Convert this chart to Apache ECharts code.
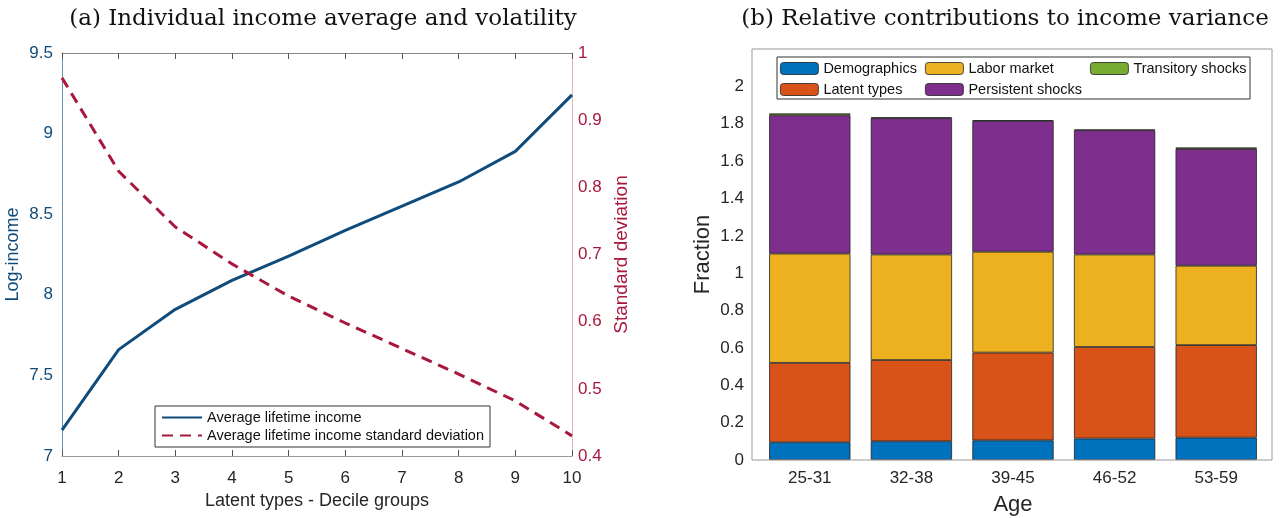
<!DOCTYPE html>
<html><head><meta charset="utf-8">
<script src="https://cdn.jsdelivr.net/npm/echarts@6/dist/echarts.min.js"></script>
<style>html,body{margin:0;padding:0;background:#fff}#c{width:1280px;height:518px}</style>
</head><body><div id="c"></div>
<script>
// ---- Data ----
const deciles = [1,2,3,4,5,6,7,8,9,10];
const avgIncome = [7.16,7.66,7.91,8.09,8.24,8.40,8.55,8.70,8.89,9.24];
const avgIncomeSD = [0.963,0.824,0.741,0.686,0.638,0.598,0.560,0.522,0.482,0.430];
const ageGroups = ['25-31','32-38','39-45','46-52','53-59'];
const demographics = [0.095,0.100,0.105,0.115,0.120];
const latentTypes = [0.425,0.435,0.470,0.490,0.495];
const laborMarket = [0.585,0.565,0.540,0.495,0.425];
const persistentShocks = [0.740,0.730,0.700,0.665,0.625];
const transitoryShocks = [0.010,0.004,0.004,0.004,0.008];
const leftTicks = [7,7.5,8,8.5,9,9.5];
const rightTicks = [0.4,0.5,0.6,0.7,0.8,0.9,1];

const BLUE='#0f4c7c', RED='#a8173c';
const SANS='"Liberation Sans", Arial, sans-serif';
const SERIF='"DejaVu Serif", "Liberation Serif", serif';
const chart = echarts.init(document.getElementById('c'));
const xy = (a,b)=>a.map((v,i)=>[b[i],v]);
const barSeries = (name,data,color)=>({name,type:'bar',stack:'t',xAxisIndex:2,yAxisIndex:2,data,barWidth:'80%',
  itemStyle:{color,borderColor:'#222',borderWidth:0.8}});
const barLegend = (data,left)=>({data,orient:'vertical',left,top:61,itemWidth:38,itemHeight:12,itemGap:6,padding:0,
  itemStyle:{borderColor:'#222',borderWidth:0.8},textStyle:{fontFamily:SANS,fontSize:14.5,color:'#111'}});
chart.setOption({
  animation:false,
  title:[
    {text:'(a) Individual income average and volatility',left:318,top:3,textAlign:'center',textStyle:{fontFamily:SERIF,fontWeight:'normal',fontSize:23,color:'#111'}},
    {text:'(b) Relative contributions to income variance',left:1000,top:3,textAlign:'center',textStyle:{fontFamily:SERIF,fontWeight:'normal',fontSize:23,color:'#111'}}
  ],
  grid:[
    {left:62,right:708,top:53,bottom:62,containLabel:false,outerBoundsMode:'none'},
    {left:759,right:13,top:49,bottom:58,containLabel:false,outerBoundsMode:'none'}
  ],
  xAxis:[
    {type:'value',gridIndex:0,min:1,max:10,interval:1,
     name:'Latent types - Decile groups',nameLocation:'middle',nameGap:32,nameTextStyle:{fontFamily:SANS,fontSize:18,color:'#262626'},
     axisLine:{lineStyle:{color:'#999'}},axisTick:{inside:true,length:6,lineStyle:{color:'#555'}},
     axisLabel:{fontFamily:SANS,fontSize:17,color:'#262626',margin:14},splitLine:{show:false}},
    {type:'value',gridIndex:0,min:1,max:10,interval:1,position:'top',
     axisLine:{lineStyle:{color:'#888'}},axisTick:{inside:true,length:6,lineStyle:{color:'#555'}},axisLabel:{show:false},splitLine:{show:false}},
    {type:'category',gridIndex:1,data:ageGroups,
     name:'Age',nameLocation:'middle',nameGap:34,nameTextStyle:{fontFamily:SANS,fontSize:22,color:'#262626'},
     axisLine:{show:false},axisTick:{inside:true,alignWithLabel:true,length:6,lineStyle:{color:'#555'}},
     axisLabel:{fontFamily:SANS,fontSize:17,color:'#262626',margin:10}},
    {type:'category',gridIndex:1,data:ageGroups,position:'top',
     axisLine:{show:false},axisTick:{inside:true,alignWithLabel:true,length:6,lineStyle:{color:'#555'}},axisLabel:{show:false}}
  ],
  yAxis:[
    {type:'value',gridIndex:0,min:7,max:9.5,interval:0.5,
     name:'Log-income',nameLocation:'middle',nameGap:40,nameTextStyle:{fontFamily:SANS,fontSize:18,color:BLUE},
     axisLine:{show:true,lineStyle:{color:'#6d93b3'}},axisTick:{show:false},
     axisLabel:{fontFamily:SANS,fontSize:17,color:BLUE,margin:9,formatter:v=>leftTicks.includes(v)?String(v):''},splitLine:{show:false}},
    {type:'value',gridIndex:0,min:0.4,max:1,interval:0.1,position:'right',
     name:'Standard deviation',nameLocation:'middle',nameGap:40,nameRotate:90,nameTextStyle:{fontFamily:SANS,fontSize:19,color:RED},
     axisLine:{show:true,lineStyle:{color:'#eab2bf'}},axisTick:{show:false},
     axisLabel:{fontFamily:SANS,fontSize:17,color:RED,margin:6,formatter:v=>{const r=Math.round(v*10)/10;return rightTicks.includes(r)?String(r):'';}},splitLine:{show:false}},
    {type:'value',gridIndex:1,min:0,max:2.2,interval:0.2,offset:7,
     name:'Fraction',nameLocation:'middle',nameGap:38,nameTextStyle:{fontFamily:SANS,fontSize:22,color:'#262626'},
     axisLine:{show:false},axisTick:{inside:true,length:5,lineStyle:{color:'#555'}},
     axisLabel:{fontFamily:SANS,fontSize:17,color:'#262626',margin:8,formatter:v=>{const r=Math.round(v*10)/10;return r>2.05?'':String(r);}},splitLine:{show:false}},
    {type:'value',gridIndex:1,min:0,max:2.2,interval:0.2,position:'right',offset:5,
     axisLine:{show:false},axisTick:{inside:true,length:5,lineStyle:{color:'#555'}},axisLabel:{show:false},splitLine:{show:false}}
  ],
  legend:[
    {data:['Average lifetime income','Average lifetime income standard deviation'],orient:'vertical',left:155,top:406,
     itemWidth:40,itemHeight:12,itemGap:3,padding:[4,6],borderColor:'#333',borderWidth:1,itemStyle:{opacity:0},
     textStyle:{fontFamily:SANS,fontSize:14.5,color:'#111'}},
    barLegend(['Demographics','Latent types'],780),
    barLegend(['Labor market','Persistent shocks'],925),
    barLegend(['Transitory shocks'],1090)
  ],
  graphic:[
    {type:'rect',shape:{x:752,y:49,width:520,height:411},style:{fill:'none',stroke:'#999',lineWidth:1},z:50},
    {type:'rect',shape:{x:777,y:57,width:473,height:42},style:{fill:'none',stroke:'#333',lineWidth:1},z:100}
  ],
  series:[
    {name:'Average lifetime income',type:'line',xAxisIndex:0,yAxisIndex:0,data:xy(avgIncome,deciles),showSymbol:false,symbol:'none',
     lineStyle:{color:BLUE,width:3},itemStyle:{color:BLUE}},
    {name:'Average lifetime income standard deviation',type:'line',xAxisIndex:0,yAxisIndex:1,data:xy(avgIncomeSD,deciles),showSymbol:false,symbol:'none',
     lineStyle:{color:RED,width:3,type:[11,7]},itemStyle:{color:RED}},
    barSeries('Demographics',demographics,'#0072BD'),
    barSeries('Latent types',latentTypes,'#D95319'),
    barSeries('Labor market',laborMarket,'#EDB120'),
    barSeries('Persistent shocks',persistentShocks,'#7E2F8E'),
    barSeries('Transitory shocks',transitoryShocks,'#77AC30')
  ]
});
</script></body></html>
